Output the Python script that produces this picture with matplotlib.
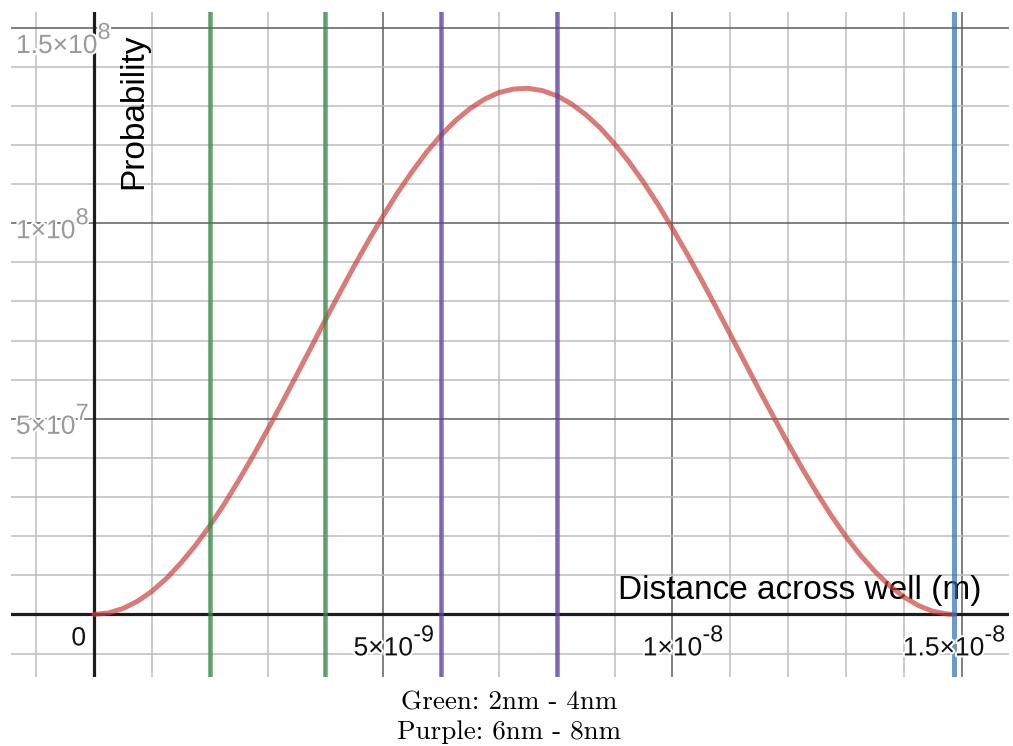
import matplotlib
matplotlib.use("Agg")
import matplotlib.pyplot as plt
import matplotlib.patheffects as pe
from matplotlib.ticker import MultipleLocator
from matplotlib.transforms import IdentityTransform
import numpy as np

# ---------------- data ----------------
x_nm = [0.0, 0.25, 0.5, 0.75, 1.0, 1.25, 1.5, 1.75, 2.0, 2.25, 2.5, 2.75,
        3.0, 3.25, 3.5, 3.75, 4.0, 4.25, 4.5, 4.75, 5.0, 5.25, 5.5, 5.75,
        6.0, 6.25, 6.5, 6.75, 7.0, 7.25, 7.5, 7.75, 8.0, 8.25, 8.5, 8.75,
        9.0, 9.25, 9.5, 9.75, 10.0, 10.25, 10.5, 10.75, 11.0, 11.25, 11.5,
        11.75, 12.0, 12.25, 12.5, 12.75, 13.0, 13.25, 13.5, 13.75, 14.0,
        14.25, 14.5, 14.75, 14.87]
prob_millions = [0.0, 0.37, 1.5, 3.35, 5.9, 9.16, 13.1, 17.56, 22.6, 28.16,
                 34.2, 40.51, 47.2, 54.04, 61.1, 68.17, 75.3, 82.24, 89.1,
                 95.66, 101.9, 107.81, 113.2, 118.16, 122.5, 126.24, 129.3,
                 131.7, 133.4, 134.29, 134.5, 133.91, 132.6, 130.56, 127.8,
                 124.4, 120.3, 115.69, 110.5, 104.84, 98.7, 92.28, 85.6,
                 78.66, 71.6, 64.52, 57.4, 50.48, 43.7, 37.19, 31.0, 25.23,
                 19.9, 15.16, 11.0, 7.4, 4.5, 2.3, 0.8, 0.09, 0.0]
green_lines = [2e-9, 4e-9]
purple_lines = [6e-9, 8e-9]
blue_lines = [14.87e-9]

x_ticks = [5e-9, 1e-8, 1.5e-8]
x_tick_base = ["5\u00d710", "1\u00d710", "1.5\u00d710"]
x_tick_exp = ["-9", "-8", "-8"]
y_ticks = [5e7, 1e8, 1.5e8]
y_tick_base = ["5\u00d710", "1\u00d710", "1.5\u00d710"]
y_tick_exp = ["7", "8", "8"]

x_label = "Distance across well (m)"
y_label = "Probability"
notes = ["Green: 2nm - 4nm", "Purple: 6nm - 8nm"]

# ---------------- figure ----------------
W, H = 1013, 746
SANS = ["Liberation Sans", "DejaVu Sans"]
fig = plt.figure(figsize=(W / 100, H / 100), dpi=100)
fig.patch.set_facecolor("white")
ax = fig.add_axes([11 / W, 1 - 677 / H, 998 / W, 665 / H])
ax.set_xlim(-1.435e-9, 15.82e-9)
ax.set_ylim(-16.0e6, 154.0e6)

ax.xaxis.set_major_locator(MultipleLocator(5e-9))
ax.xaxis.set_minor_locator(MultipleLocator(1e-9))
ax.yaxis.set_major_locator(MultipleLocator(5e7))
ax.yaxis.set_minor_locator(MultipleLocator(1e7))
ax.grid(which="major", color="#5e5e5e", lw=1.1, zorder=1)
ax.grid(which="minor", color="#bdbdbd", lw=1.1, zorder=1)
ax.set_axisbelow(True)
ax.tick_params(which="both", length=0, labelbottom=False, labelleft=False)
for s in ax.spines.values():
    s.set_visible(False)

ax.axhline(0, color="#1c1c1c", lw=2.3, zorder=3)
ax.axvline(0, color="#1c1c1c", lw=2.3, zorder=3)

x_m = np.array(x_nm) * 1e-9
y_p = np.array(prob_millions) * 1e6
ax.plot(x_m, y_p, color="#c74440", alpha=0.7, lw=3.6,
        solid_capstyle="round", solid_joinstyle="round", zorder=4)

for xv in green_lines:
    ax.axvline(xv, color="#388c46", alpha=0.75, lw=3.3, zorder=5)
for xv in purple_lines:
    ax.axvline(xv, color="#6042a6", alpha=0.75, lw=3.3, zorder=5)
for xv in blue_lines:
    ax.axvline(xv, color="#2d70b3", alpha=0.7, lw=3.6, zorder=5)

# ---------------- tick labels ----------------
renderer = fig.canvas.get_renderer()
halo = [pe.withStroke(linewidth=3, foreground="white")]
FS = 19


def sci_label(xd, yd, base, exp, color, ha, right_limit=None, top_limit=None):
    t1 = fig.text(xd, yd, base, transform=IdentityTransform(), ha=ha,
                  va="baseline", fontsize=FS, color=color, family=SANS,
                  path_effects=halo, zorder=6)
    b1 = t1.get_window_extent(renderer)
    ex = b1.x1 + 0.5
    t2 = fig.text(ex, yd + 14, exp, transform=IdentityTransform(), ha="left",
                  va="baseline", fontsize=FS * 0.88, color=color, family=SANS,
                  path_effects=halo, zorder=6)
    b2 = t2.get_window_extent(renderer)
    if right_limit is not None and b2.x1 > right_limit:
        d = b2.x1 - right_limit
        t1.set_x(xd - d)
        t2.set_x(ex - d)
    if top_limit is not None and b2.y1 > top_limit:
        d = b2.y1 - top_limit
        t1.set_y(yd - d)
        t2.set_y(yd + 14 - d)


ox, oy = ax.transData.transform((0, 0))
for xv, b, e in zip(x_ticks, x_tick_base, x_tick_exp):
    xd, _ = ax.transData.transform((xv, 0))
    sci_label(xd, oy - 41, b, e, "#111111", "center", right_limit=W - 8)

for yv, b, e in zip(y_ticks, y_tick_base, y_tick_exp):
    _, yd = ax.transData.transform((0, yv))
    sci_label(16, yd - 15, b, e, "#9a9a9a", "left", top_limit=H - 21)

fig.text(ox - 8, oy - 31, "0", transform=IdentityTransform(), ha="right",
         va="baseline", fontsize=FS, color="#111111", family=SANS,
         path_effects=halo, zorder=6)

# ---------------- axis titles ----------------
ax.text(982, H - 599, x_label, transform=IdentityTransform(), ha="right",
        va="baseline", fontsize=24, color="black", family=SANS,
        zorder=3.5, clip_on=False)
ax.text(134, H - 111, y_label, transform=IdentityTransform(), ha="center",
        va="center", rotation=90, fontsize=24, color="black", family=SANS,
        zorder=3.5, clip_on=False)

# ---------------- notes below ----------------
fig.text(509, H - 709, notes[0], transform=IdentityTransform(), ha="center",
         va="baseline", fontsize=19.5, family="cmr10", color="black")
fig.text(509, H - 739, notes[1], transform=IdentityTransform(), ha="center",
         va="baseline", fontsize=19.5, family="cmr10", color="black")

fig.savefig("out.png", dpi=100, facecolor="white")
